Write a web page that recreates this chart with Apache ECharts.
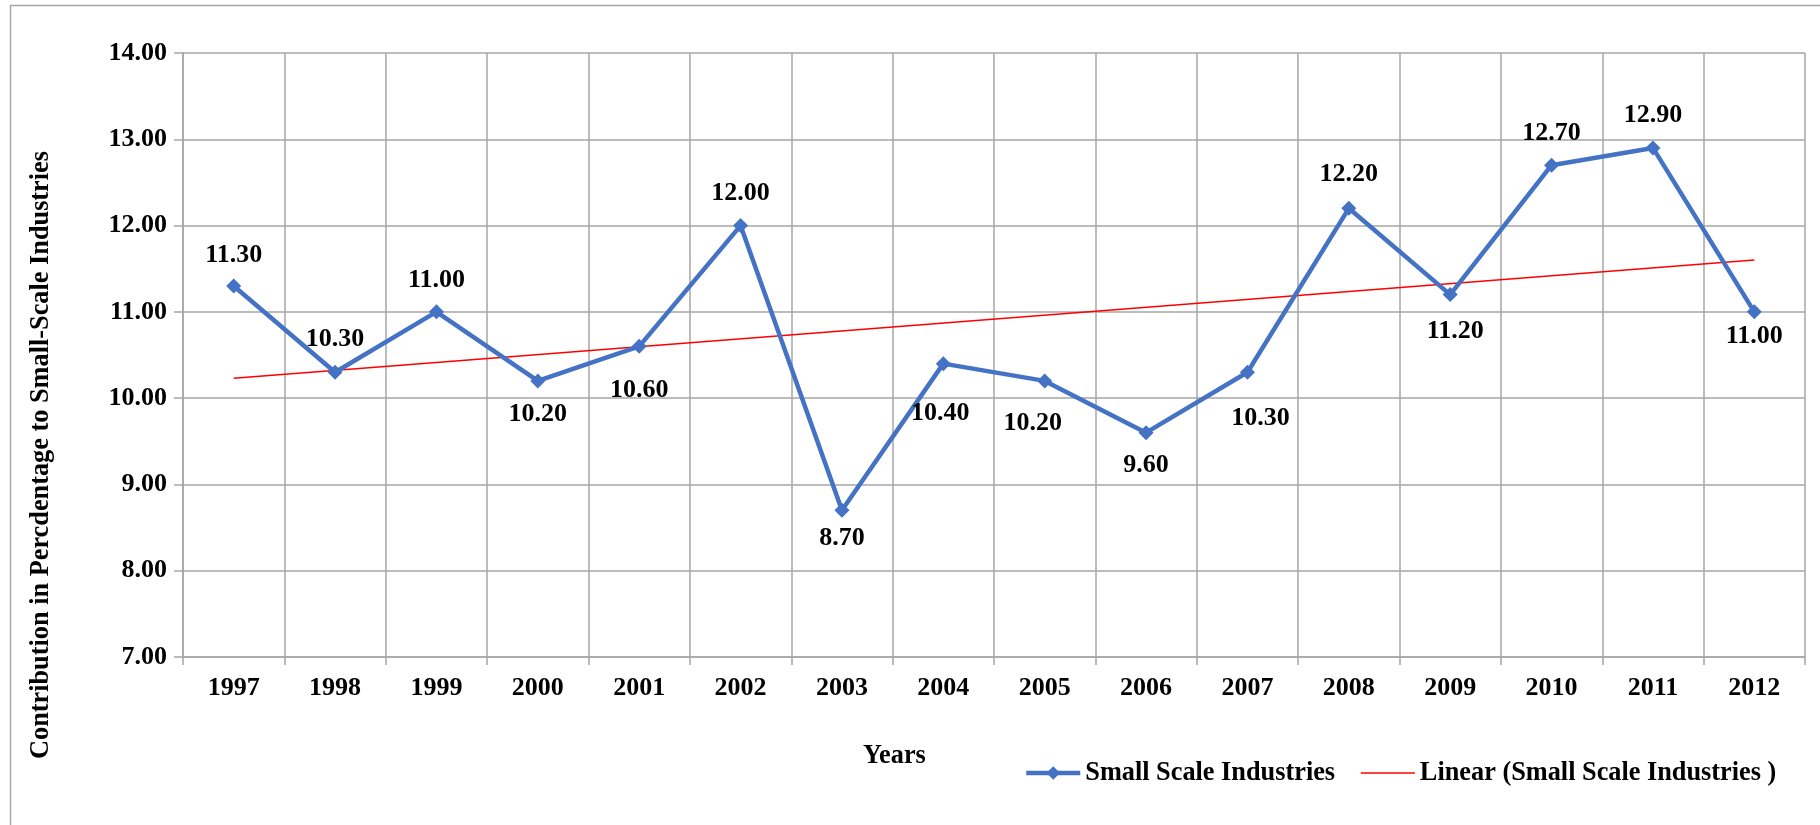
<!DOCTYPE html>
<html>
<head>
<meta charset="utf-8">
<script src="https://cdn.jsdelivr.net/npm/echarts@6/dist/echarts.min.js"></script>
<style>
html,body{margin:0;padding:0;background:#fff;}
#chart{width:1820px;height:825px;}
</style>
</head>
<body>
<div id="chart"></div>
<script>
// ---- data ----
const years = ['1997','1998','1999','2000','2001','2002','2003','2004','2005','2006','2007','2008','2009','2010','2011','2012'];
const smallScale = [11.30,10.30,11.00,10.20,10.60,12.00,8.70,10.40,10.20,9.60,10.30,12.20,11.20,12.70,12.90,11.00];
const trendEnds = [10.23, 11.60]; // linear trendline values at 1997 and 2012
const yTicks = [7, 8, 9, 10, 11, 12, 13, 14];
const yTitle = 'Contribution in Percdentage to Small-Scale Industries';
const xTitle = 'Years';

// ---- label placement (style, not data): [dx, dy] offset of label centre from point ----
const labelOffsets = [
  [0,-31],[0,-33],[0,-32],[0,33],[0,44],[0,-32],[0,28],[-3,50],
  [-12,42],[0,33],[13,46],[0,-34],[5,37],[0,-32],[0,-33],[0,24]
];

const FONT = '"Liberation Serif","Times New Roman",serif';
const SYM = 15;
const NUM_SIZE = 26;
const TXT_SIZE = 26.3;

const lineData = smallScale.map((v, i) => ({
  value: v,
  label: {
    position: [SYM/2 + labelOffsets[i][0], SYM/2 + labelOffsets[i][1]],
    align: 'center',
    verticalAlign: 'middle'
  }
}));

const chart = echarts.init(document.getElementById('chart'), null, {renderer: 'canvas'});
chart.setOption({
  backgroundColor: '#ffffff',
  animation: false,
  grid: {left: 183, right: 15, top: 53, bottom: 168, containLabel: false},
  graphic: [
    {type: 'rect', shape: {x: 10.5, y: 5.5, width: 1830, height: 840}, style: {fill: 'none', stroke: '#a6a6a6', lineWidth: 1.5}, silent: true},
    {type: 'text', left: 863, top: 743, style: {text: xTitle, font: 'bold ' + TXT_SIZE + 'px ' + FONT, fill: '#000'}},
    {type: 'text', x: 41, y: 455, rotation: Math.PI / 2,
      style: {text: yTitle, font: 'bold ' + TXT_SIZE + 'px ' + FONT, fill: '#000', align: 'center', verticalAlign: 'middle'}}
  ],
  legend: {
    left: 1019, top: 755,
    itemWidth: 54, itemHeight: 17, itemGap: 25,
    textStyle: {fontFamily: FONT, fontWeight: 'bold', fontSize: TXT_SIZE, color: '#000'},
    data: [
      {name: 'Small Scale Industries', lineStyle: {width: 4.5, color: '#4472c4'}, itemStyle: {color: '#4472c4'}},
      {name: 'Linear (Small Scale Industries )', lineStyle: {width: 1.5, color: '#ff0000'}, itemStyle: {color: 'rgba(0,0,0,0)', opacity: 0, borderWidth: 0}}
    ]
  },
  xAxis: {
    type: 'category',
    data: years,
    boundaryGap: true,
    axisLine: {lineStyle: {color: '#a6a6a6', width: 1.5}},
    axisTick: {show: true, length: 8, lineStyle: {color: '#a6a6a6', width: 1.5}},
    splitLine: {show: true, lineStyle: {color: '#a6a6a6', width: 1.5}},
    axisLabel: {margin: 18, fontFamily: FONT, fontWeight: 'bold', fontSize: NUM_SIZE, color: '#000'}
  },
  yAxis: {
    type: 'value',
    min: yTicks[0], max: yTicks[yTicks.length - 1], interval: 1,
    axisLine: {show: true, lineStyle: {color: '#a6a6a6', width: 1.5}},
    axisTick: {show: true, length: 9, lineStyle: {color: '#a6a6a6', width: 1.5}},
    splitLine: {show: true, lineStyle: {color: '#a6a6a6', width: 1.5}},
    axisLabel: {margin: 16, fontFamily: FONT, fontWeight: 'bold', fontSize: NUM_SIZE, color: '#000',
      formatter: v => v.toFixed(2)}
  },
  series: [
    {
      name: 'Small Scale Industries',
      type: 'line',
      data: lineData,
      symbol: 'diamond',
      symbolSize: SYM,
      itemStyle: {color: '#4472c4'},
      lineStyle: {color: '#4472c4', width: 4.5},
      label: {
        show: true,
        fontFamily: FONT, fontWeight: 'bold', fontSize: NUM_SIZE, color: '#000',
        formatter: p => p.value.toFixed(2)
      },
      z: 3
    },
    {
      name: 'Linear (Small Scale Industries )',
      type: 'line',
      data: [[years[0], trendEnds[0]], [years[years.length - 1], trendEnds[1]]],
      symbol: 'none',
      lineStyle: {color: '#ff0000', width: 1.5},
      itemStyle: {color: '#ff0000'},
      z: 2
    }
  ]
});
</script>
</body>
</html>
